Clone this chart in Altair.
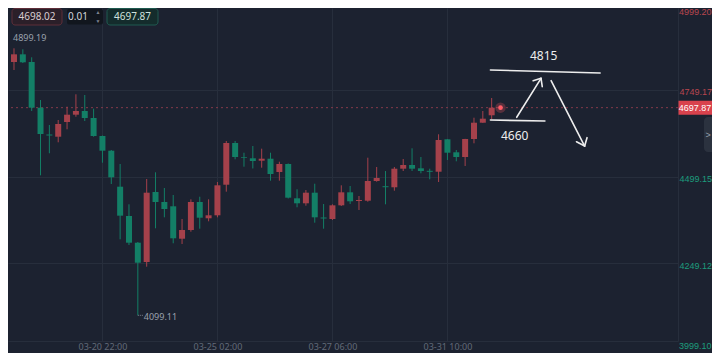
import altair as alt
import pandas as pd

# ---------------- data ----------------
idx = list(range(55))
opens = [4829.5, 4851.7, 4829.5, 4697.8, 4620.5, 4614.1, 4656.5, 4677.6, 4688.3, 4668.1,
         4616.2, 4573.8, 4470.0, 4385.5, 4308.5, 4252.8, 4454.7, 4425.9, 4413.5, 4320.0,
         4345.1, 4425.9, 4378.9, 4387.5, 4475.7, 4596.0, 4555.6, 4551.9, 4544.9, 4550.7,
         4512.4, 4535.4, 4436.5, 4422.1, 4452.7, 4381.2, 4376.8, 4416.3, 4453.8, 4428.7,
         4429.6, 4486.4, 4471.4, 4468.3, 4521.9, 4532.5, 4523.0, 4515.8, 4513.2, 4606.7,
         4569.2, 4555.6, 4607.5, 4654.5, 4675.9]
highs = [4869.0, 4866.2, 4843.1, 4720.0, 4647.9, 4662.3, 4700.7, 4736.4, 4734.4, 4694.9,
         4617.5, 4575.8, 4535.4, 4419.2, 4310.5, 4492.2, 4511.5, 4466.2, 4446.0, 4376.8,
         4433.6, 4441.1, 4433.6, 4483.5, 4601.8, 4601.8, 4568.0, 4587.3, 4579.6, 4568.0,
         4542.1, 4537.0, 4462.5, 4460.5, 4478.6, 4420.1, 4419.2, 4474.0, 4472.0, 4443.2,
         4553.6, 4526.8, 4515.2, 4526.8, 4549.8, 4580.7, 4555.6, 4521.9, 4621.1, 4607.5,
         4575.8, 4608.0, 4668.9, 4688.3, 4725.7]
lows = [4806.5, 4826.5, 4688.3, 4502.8, 4566.3, 4598.0, 4635.5, 4671.8, 4659.4, 4614.1,
        4539.2, 4477.8, 4318.3, 4301.9, 4099.11, 4239.3, 4350.0, 4381.7, 4306.8, 4304.8,
        4340.2, 4348.9, 4370.2, 4381.7, 4455.6, 4549.0, 4527.6, 4522.5, 4524.8, 4487.3,
        4487.3, 4436.0, 4410.6, 4415.2, 4366.2, 4348.9, 4374.0, 4414.3, 4420.1, 4402.8,
        4426.7, 4484.4, 4419.2, 4458.4, 4515.2, 4515.2, 4508.6, 4491.3, 4483.5, 4547.0,
        4543.2, 4529.7, 4595.1, 4654.0, 4664.3]
closes = [4851.7, 4828.7, 4697.8, 4621.9, 4617.6, 4650.8, 4677.6, 4688.3, 4668.1, 4616.2,
          4573.8, 4497.1, 4386.4, 4308.5, 4250.8, 4452.7, 4425.9, 4405.7, 4321.2, 4345.1,
          4425.9, 4380.6, 4387.5, 4474.0, 4596.0, 4555.6, 4553.6, 4544.1, 4550.7, 4506.6,
          4535.4, 4438.3, 4422.1, 4452.7, 4381.7, 4378.3, 4416.3, 4453.8, 4427.9, 4431.6,
          4486.4, 4495.1, 4468.5, 4521.9, 4532.5, 4521.9, 4515.2, 4512.9, 4604.6, 4568.0,
          4555.6, 4607.5, 4654.5, 4666.1, 4697.87]

x_ticks = [10, 23, 36, 49]
x_labels = ["03-20 22:00", "03-25 02:00", "03-27 06:00", "03-31 10:00"]
y_ticks = [4249.12, 4499.15, 4749.17]
y_top_label = ["4999.20"]
y_bottom_label = ["3999.10"]
last_price = [4697.87]
top_boxes = ["4698.02", "0.01", "4697.87"]
max_pt = {"idx": [0], "price": [4899.19], "label": ["4899.19"]}
min_pt = {"idx": [14], "price": [4099.11], "label": ["4099.11"]}

# hand-drawn annotation (index, price)
ann_seg = [0, 0, 1, 1, 2, 2, 3, 3, 4, 4, 5, 5, 6, 6, 7, 7]
ann_x = [53.86, 66.26, 53.86, 60.02, 56.83, 59.58, 58.69, 59.58,
         59.72, 59.58, 60.72, 64.51, 63.59, 64.51, 64.78, 64.51]
ann_y = [4806.5, 4797.8, 4662.3, 4659.4, 4670.1, 4782.5, 4775.6, 4782.5,
         4758.3, 4782.5, 4775.6, 4587.3, 4599.7, 4587.3, 4611.3, 4587.3]
ann_text = ["4815", "4660"]
ann_text_x = [59.88, 56.6]
ann_text_y = [4847.7, 4617.0]

# ---------------- styling ----------------
BG = "#1c2230"
GRID = "#272e3c"
RED = "#e0515b"
GREEN = "#10b08b"
RED_W = "#a5414b"
GREEN_W = "#137f66"
RED_TXT = "#b8464f"
GREEN_TXT = "#1c9c7c"
FONT = "Noto Sans"
AXFONT = "Liberation Sans"
W, H = 670, 333

candles = pd.DataFrame({"idx": idx, "open": opens, "high": highs, "low": lows, "close": closes})
candles["dir"] = ["up" if c >= o else "down" for o, c in zip(opens, closes)]

xs = alt.Scale(domain=[-0.1114, 74.499], nice=False, zero=False)
ys = alt.Scale(domain=[4025.05, 4985.26], nice=False, zero=False)

lab_arr = "[" + ",".join("'%s'" % s for s in x_labels) + "]"
tick_arr = "[" + ",".join(str(t) for t in x_ticks) + "]"
xaxis = alt.Axis(values=x_ticks, labelExpr=f"{lab_arr}[indexof({tick_arr}, datum.value)]",
                 grid=True, gridColor=GRID, domain=True, domainColor=GRID, ticks=False, title=None,
                 labelColor="#626a78", labelFontSize=9, labelPadding=1, labelFont=FONT)
yaxis = alt.Axis(orient="right", values=y_ticks, format=".2f", grid=True, gridColor=GRID,
                 domain=True, domainColor=GRID, ticks=False, title=None, labelPadding=1,
                 labelFontSize=9, labelFont=AXFONT, labelOffset=2,
                 labelColor={"condition": {"test": "datum.value > 4697.87", "value": RED_TXT},
                             "value": GREEN_TXT})


def X(f):
    return alt.X(f, type="quantitative", scale=xs, axis=xaxis)


def Y(f):
    return alt.Y(f, type="quantitative", scale=ys, axis=yaxis)


one = pd.DataFrame({"k": [0]})

wicks = alt.Chart(candles).mark_rule(strokeWidth=1).encode(
    x=X("idx"), y=Y("low"), y2=alt.Y2("high"),
    color=alt.Color("dir:N", scale=alt.Scale(domain=["up", "down"], range=[RED_W, GREEN_W]), legend=None),
)
bodies = alt.Chart(candles).mark_bar(size=6, clip=True).encode(
    x=X("idx"), y=Y("open"), y2=alt.Y2("close"),
    color=alt.Color("dir:N", scale=alt.Scale(domain=["up", "down"], range=[RED, GREEN]), legend=None),
)

price_df = pd.DataFrame({"price": last_price, "label": ["%.2f" % p for p in last_price],
                         "idx": [55.0]})
price_line = alt.Chart(price_df).mark_rule(strokeDash=[2, 3], color="#84394a", strokeWidth=1).encode(
    y=Y("price"))

ann_df = pd.DataFrame({"seg": ann_seg, "idx": ann_x, "price": ann_y,
                       "ord": list(range(len(ann_seg)))})
ann_lines = alt.Chart(ann_df).mark_line(color="#ededed", strokeWidth=1.6, strokeCap="round").encode(
    x=X("idx"), y=Y("price"), detail="seg:N", order="ord:Q")
ann_txt = alt.Chart(pd.DataFrame({"idx": ann_text_x, "price": ann_text_y, "t": ann_text})).mark_text(
    color="#eeeeee", fontSize=12, font=FONT).encode(x=X("idx"), y=Y("price"), text="t:N")

max_txt = alt.Chart(pd.DataFrame(max_pt)).mark_text(
    color="#9aa1ad", fontSize=9, font=FONT, align="left", dx=-1).encode(
    x=X("idx"), y=Y("price"), text="label:N")
min_txt = alt.Chart(pd.DataFrame(min_pt)).mark_text(
    color="#9aa1ad", fontSize=9, font=FONT, align="left", dx=6, dy=2).encode(
    x=X("idx"), y=Y("price"), text="label:N")
min_lead = alt.Chart(pd.DataFrame(min_pt)).mark_rule(
    color="#7c8390", strokeDash=[1, 1], x2Offset=5).encode(
    x=X("idx"), x2=alt.X2("idx"), y=Y("price"))

glow = alt.Chart(price_df).mark_circle(color=RED, opacity=0.3, size=110).encode(x=X("idx"), y=Y("price"))
dot = alt.Chart(price_df).mark_circle(color="#ff5c66", opacity=1, size=22).encode(x=X("idx"), y=Y("price"))

tag = alt.Chart(price_df).mark_rect(color="#d9424d", yOffset=-7, y2Offset=7).encode(
    x=alt.value(W + 0.5), x2=alt.value(W + 34), y=Y("price"), y2=alt.Y2("price"))
tag_txt = alt.Chart(price_df).mark_text(color="white", fontSize=9, font=AXFONT).encode(
    x=alt.value(W + 17), y=Y("price"), text="label:N")

top_lab = alt.Chart(pd.DataFrame({"t": y_top_label})).mark_text(
    color=RED_TXT, fontSize=9, font=AXFONT, align="left", baseline="top").encode(
    x=alt.value(W + 1), y=alt.value(0), text="t:N")
bot_lab = alt.Chart(pd.DataFrame({"t": y_bottom_label})).mark_text(
    color=GREEN_TXT, fontSize=9, font=AXFONT, align="left", baseline="middle").encode(
    x=alt.value(W + 1), y=alt.value(H + 5), text="t:N")

# top-left order boxes
box1 = alt.Chart(one).mark_rect(fill="#2b1f29", stroke="#5e2e39", strokeWidth=1, cornerRadius=3).encode(
    x=alt.value(4), x2=alt.value(54), y=alt.value(0.5), y2=alt.value(17))
box2 = alt.Chart(one).mark_rect(fill="#11161e", cornerRadius=2).encode(
    x=alt.value(59), x2=alt.value(95), y=alt.value(1), y2=alt.value(16.5))
box3 = alt.Chart(one).mark_rect(fill="#142c2c", stroke="#1f5a50", strokeWidth=1, cornerRadius=3).encode(
    x=alt.value(99), x2=alt.value(150), y=alt.value(0.5), y2=alt.value(17))
bt1 = alt.Chart(pd.DataFrame({"t": [top_boxes[0]]})).mark_text(color="#d8ccd0", fontSize=10, font=FONT).encode(
    x=alt.value(29), y=alt.value(9), text="t:N")
bt2 = alt.Chart(pd.DataFrame({"t": [top_boxes[1]]})).mark_text(color="#d0d4da", fontSize=10, font=FONT).encode(
    x=alt.value(70), y=alt.value(9), text="t:N")
bt2a = alt.Chart(pd.DataFrame({"t": ["▲", "▼"], "yy": [4, 13]})).mark_text(color="#7d8491", fontSize=5).encode(
    x=alt.value(90), y=alt.Y("yy:Q", scale=None), text="t:N")
bt3 = alt.Chart(pd.DataFrame({"t": [top_boxes[2]]})).mark_text(color="#cfe1dc", fontSize=10, font=FONT).encode(
    x=alt.value(124.5), y=alt.value(9), text="t:N")

# right side collapse tab
tab = alt.Chart(one).mark_rect(fill="#2b323f", cornerRadiusTopLeft=4, cornerRadiusBottomLeft=4).encode(
    x=alt.value(W + 26), x2=alt.value(W + 34), y=alt.value(109), y2=alt.value(144))
tab_txt = alt.Chart(pd.DataFrame({"t": [">"]})).mark_text(color="#9aa1ad", fontSize=9).encode(
    x=alt.value(W + 30), y=alt.value(126.5), text="t:N")

chart = alt.layer(
    price_line, wicks, bodies, ann_lines, ann_txt, max_txt, min_lead, min_txt, glow, dot,
    tag, tag_txt, top_lab, bot_lab, box1, box2, box3, bt1, bt2, bt2a, bt3, tab, tab_txt
).properties(
    width=W, height=H,
    autosize=alt.AutoSizeParams(type="none"),
    padding={"left": 0, "top": 0, "right": 34, "bottom": 12},
    background=BG,
).configure_view(stroke=None)

chart.save("out.html", embed_options={"renderer": "svg", "actions": False})
